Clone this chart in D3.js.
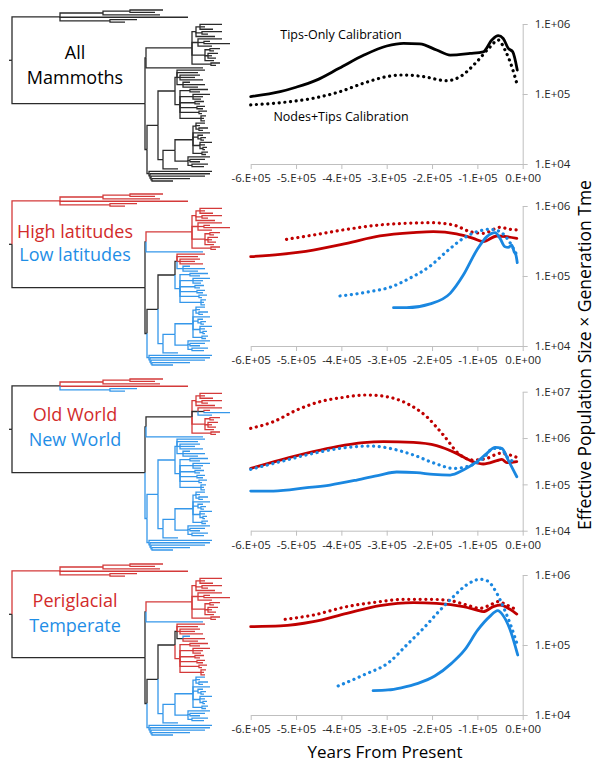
<!DOCTYPE html>
<html>
<head>
<meta charset="utf-8">
<script src="https://cdn.jsdelivr.net/npm/d3@7"></script>
<style>
    html, body { margin: 0; padding: 0; background: #fff; }
    svg { display: block; font-family: "Open Sans", sans-serif; }
</style>
</head>
<body>
<svg id="fig" width="598" height="762"></svg>
<script>

// ---- data ----

var xTicks = [-6e5, -5e5, -4e5, -3e5, -2e5, -1e5, 0];
var xTickLabels = ["-6.E+05", "-5.E+05", "-4.E+05", "-3.E+05", "-2.E+05", "-1.E+05", "0.E+00"];
var yTicks3 = [1e4, 1e5, 1e6];
var yTicks4 = [1e4, 1e5, 1e6, 1e7];
var yTickLabels = {1e4: "1.E+04", 1e5: "1.E+05", 1e6: "1.E+06", 1e7: "1.E+07"};

// mammoth tree, branch lengths in plot units
var newick = "(" +
    "(((t1:33,t2:25):27,t3:57):43,t4:128,(t5:27,t6:15):50):48," +
    "(" +
      "((((a1:22,a2:5,a3:13):4,(a4:20,a5:6):6,a6:19):4,(a7:24,(a8:6,a9:26):6,a10:14):6," +
        "((a11:10,a12:4):5,(a13:10,a14:4,a15:8):3,a16:9):13,(a17:9,a18:5):19):46,lone:57):1," +
      "((" +
        "((c1:28,c2:21,(c3:20,c4:15,c5:23):3,(c6:7,c7:22,c8:15):6):2," +
          "((c9:18,c10:10):10,(c11:17,c12:10,c13:8):13,(c14:9,c15:5):15,(c16:8,c17:6):17," +
          "(c18:8,c19:3):19,(c20:5,c21:3,c22:4):21):5):17," +
        "(((" +
          "(d1:9,d2:4,(d3:9,d4:4):3):3,d5:17,(d6:5,(d7:5,d8:3):3):5,(d9:12,d10:5,(d11:4,d12:2):3):7,(d13:6,d14:4):9):18," +
          "(e1:22,(e2:15,e3:10):2,(e4:16,e5:12):4):13):12,b:15):5" +
      "):11," +
      "(f1:63,(f2:60,(f3:54,(f4:38,f5:21):1):1):1):2):2" +
    "):133);";

// tip states in leaf order (k = none, r = red group, b = blue group)
var statesAll = "k".repeat(72);
var statesLatitude = "rrrrrr" + "rrrrrrrrrrrrrrrrrr" + "b" + "rrrrr" + "b".repeat(17) + "b".repeat(25);
var statesWorld = "rrrrbb" + "rrrrrrrrbbrrrrrrrr" + "b" + "b".repeat(22) + "b".repeat(25);
var statesClimate = "rrrrrr" + "rrrrrrrrrrrrrrrrrr" + "b" + "rrrrrbrrrrrrrrrrrrrrrr" + "b".repeat(25);

// effective population size x generation time, [years, value]
var allTips = [[-6e5, 9.2e4], [-5.35e5, 1.08e5], [-5.0e5, 1.25e5], [-4.55e5, 1.58e5], [-4.05e5, 2.33e5],
    [-3.5e5, 3.6e5], [-3.0e5, 4.85e5], [-2.63e5, 5.3e5], [-2.27e5, 5.2e5], [-1.9e5, 4.25e5], [-1.6e5, 3.6e5],
    [-1.16e5, 3.8e5], [-8.7e4, 4.0e5], [-6.8e4, 5.9e5], [-5.4e4, 6.8e5], [-4.3e4, 6.2e5], [-3.2e4, 4.5e5],
    [-2.2e4, 4.0e5], [-1.2e4, 2.2e5]];
var allNodes = [[-6e5, 7.0e4], [-5.35e5, 7.5e4], [-4.62e5, 8.7e4], [-4.03e5, 1.08e5], [-3.52e5, 1.42e5],
    [-3.0e5, 1.77e5], [-2.63e5, 1.87e5], [-2.19e5, 1.77e5], [-1.68e5, 1.55e5], [-1.38e5, 1.77e5],
    [-1.01e5, 2.9e5], [-7.2e4, 4.7e5], [-5.4e4, 5.9e5], [-3.9e4, 4.25e5], [-2.4e4, 2.45e5], [-1.3e4, 1.42e5]];

var highTips = [[-6e5, 1.89e5], [-5.35e5, 2.04e5], [-4.62e5, 2.35e5], [-3.88e5, 2.93e5], [-3.15e5, 3.73e5],
    [-2.41e5, 4.16e5], [-1.97e5, 4.3e5], [-1.46e5, 4.0e5], [-1.09e5, 3.45e5], [-8.7e4, 3.1e5], [-5.7e4, 3.73e5],
    [-3.5e4, 3.65e5], [-1.3e4, 3.45e5]];
var highNodes = [[-5.21e5, 3.34e5], [-4.62e5, 3.85e5], [-3.88e5, 4.64e5], [-3.15e5, 5.36e5], [-2.63e5, 5.65e5],
    [-2.04e5, 5.78e5], [-1.53e5, 5.36e5], [-1.16e5, 4.3e5], [-8.7e4, 4.07e5], [-5.0e4, 4.96e5], [-2.8e4, 4.64e5],
    [-1.3e4, 4.54e5]];
var lowTips = [[-2.85e5, 3.53e4], [-2.56e5, 3.53e4], [-2.04e5, 4.0e4], [-1.6e5, 5.65e4], [-1.31e5, 1.03e5],
    [-1.01e5, 2.35e5], [-7.9e4, 3.65e5], [-6.1e4, 4.16e5], [-5.0e4, 3.45e5], [-3.9e4, 2.62e5], [-3.2e4, 2.57e5],
    [-2.4e4, 2.77e5], [-1.9e4, 2.23e5], [-1.5e4, 2.0e5], [-1.2e4, 1.55e5]];
var lowNodes = [[-4.03e5, 5.18e4], [-3.37e5, 5.98e4], [-2.93e5, 6.89e4], [-2.49e5, 9.3e4], [-2.04e5, 1.39e5],
    [-1.68e5, 2.23e5], [-1.31e5, 3.45e5], [-1.01e5, 4.3e5], [-7.2e4, 4.64e5], [-5.0e4, 4.3e5], [-3.2e4, 3.27e5],
    [-1.3e4, 2.0e5]];

var oldTips = [[-6e5, 2.21e5], [-5.35e5, 3.35e5], [-4.62e5, 5.07e5], [-4.1e5, 6.5e5], [-3.51e5, 7.93e5],
    [-3.07e5, 8.33e5], [-2.41e5, 8.06e5], [-1.9e5, 6.84e5], [-1.46e5, 4.67e5], [-1.09e5, 3.08e5], [-8.7e4, 2.75e5],
    [-5.7e4, 3.24e5], [-4.6e4, 3.47e5], [-3.5e4, 2.94e5], [-1.3e4, 3.08e5]];
var oldNodes = [[-6e5, 1.62e6], [-5.5e5, 2.25e6], [-4.99e5, 4.0e6], [-4.47e5, 6.1e6], [-3.96e5, 7.55e6],
    [-3.44e5, 8.5e6], [-3.0e5, 7.8e6], [-2.56e5, 5.6e6], [-2.12e5, 2.9e6], [-1.75e5, 1.16e6], [-1.38e5, 4.3e5],
    [-1.09e5, 3.35e5], [-7.9e4, 3.64e5], [-5.0e4, 4.67e5], [-2.8e4, 4.3e5], [-1.3e4, 3.83e5]];
var newTips = [[-6e5, 7.18e4], [-5.5e5, 7.18e4], [-4.76e5, 8.47e4], [-4.25e5, 9.68e4], [-3.66e5, 1.24e5],
    [-3.15e5, 1.59e5], [-2.78e5, 1.85e5], [-2.34e5, 1.79e5], [-1.97e5, 1.64e5], [-1.6e5, 1.59e5], [-1.31e5, 2.04e5],
    [-1.01e5, 3.08e5], [-7.9e4, 4.67e5], [-6.1e4, 6.3e5], [-4.6e4, 6.0e5], [-3.2e4, 3.35e5], [-1.3e4, 1.46e5]];
var newNodes = [[-6e5, 2.11e5], [-5.35e5, 3.08e5], [-4.62e5, 4.67e5], [-4.03e5, 5.98e5], [-3.37e5, 6.72e5],
    [-2.93e5, 5.98e5], [-2.41e5, 4.3e5], [-1.9e5, 2.75e5], [-1.53e5, 2.21e5], [-1.24e5, 2.4e5], [-8.7e4, 3.64e5],
    [-6.5e4, 5.98e5], [-5.0e4, 5.98e5], [-2.8e4, 3.35e5], [-1.3e4, 3.08e5]];

var periTips = [[-6e5, 1.83e5], [-5.35e5, 1.87e5], [-4.62e5, 2.15e5], [-3.88e5, 2.83e5], [-3.15e5, 3.65e5],
    [-2.41e5, 4.03e5], [-1.9e5, 3.94e5], [-1.31e5, 3.53e5], [-1.01e5, 3.16e5], [-8.7e4, 3.0e5], [-6.5e4, 3.53e5],
    [-5.0e4, 3.73e5], [-2.8e4, 3.24e5], [-1.3e4, 2.77e5]];
var periNodes = [[-5.24e5, 2.33e5], [-4.62e5, 2.68e5], [-3.88e5, 3.53e5], [-3.15e5, 4.16e5], [-2.63e5, 4.49e5],
    [-2.04e5, 4.49e5], [-1.6e5, 4.3e5], [-1.24e5, 3.73e5], [-9.4e4, 3.34e5], [-7.2e4, 3.73e5], [-5.4e4, 4.16e5],
    [-3.5e4, 3.73e5], [-1.3e4, 3.16e5]];
var tempTips = [[-3.3e5, 2.23e4], [-2.97e5, 2.28e4], [-2.68e5, 2.45e4], [-2.31e5, 2.83e4], [-1.94e5, 3.6e4],
    [-1.57e5, 5.47e4], [-1.28e5, 8.5e4], [-9.9e4, 1.64e5], [-7.3e4, 2.54e5], [-5.5e4, 3.09e5], [-4.4e4, 2.68e5],
    [-2.9e4, 1.73e5], [-1.1e4, 7.2e4]];
var tempNodes = [[-4.07e5, 2.6e4], [-3.51e5, 3.73e4], [-2.93e5, 5.78e4], [-2.56e5, 1.0e5], [-2.19e5, 1.73e5],
    [-1.82e5, 3.16e5], [-1.53e5, 4.9e5], [-1.24e5, 7.2e5], [-9.4e4, 8.67e5], [-7.9e4, 8.3e5], [-5.7e4, 5.47e5],
    [-4.3e4, 3.53e5], [-2.8e4, 2.04e5], [-1.3e4, 1.06e5]];

// ---- style / layout ----

var RED = "#c00000", BLUE = "#1a87e0", BLACK = "#000";
var treeColor = {k: "#2b2b2b", r: "#d43a3a", b: "#3597ea"};
var labelColor = {k: "#000", r: "#d22b2b", b: "#1f8ee6"};

var panels = [
    {dy: 0, top: 24, bottom: 164, domain: [1e4, 1e6], ticks: yTicks3, states: statesAll,
     labels: [["All", "k", 53], ["Mammoths", "k", 78]],
     series: [[allTips, BLACK, false], [allNodes, BLACK, true]]},
    {dy: 184, top: 206, bottom: 346, domain: [1e4, 1e6], ticks: yTicks3, states: statesLatitude,
     labels: [["High latitudes", "r", 232], ["Low latitudes", "b", 255]],
     series: [[highNodes, RED, true], [highTips, RED, false], [lowNodes, BLUE, true], [lowTips, BLUE, false]]},
    {dy: 369, top: 391.7, bottom: 530.7, domain: [1e4, 1e7], ticks: yTicks4, states: statesWorld,
     labels: [["Old World", "r", 415], ["New World", "b", 440]],
     series: [[oldNodes, RED, true], [oldTips, RED, false], [newNodes, BLUE, true], [newTips, BLUE, false]]},
    {dy: 554, top: 575, bottom: 715, domain: [1e4, 1e6], ticks: yTicks3, states: statesClimate,
     labels: [["Periglacial", "r", 601], ["Temperate", "b", 626]],
     series: [[periNodes, RED, true], [periTips, RED, false], [tempNodes, BLUE, true], [tempTips, BLUE, false]]}
];

var svg = d3.select("#fig");

var x = d3.scaleLinear().domain([-6e5, 0]).range([250.7, 522.7]);

// ---- tree ----

function parseNewick(s) {
    var i = 0;
    function node() {
        var n = {name: "", length: 0, children: []};
        if (s[i] === "(") {
            i++;
            n.children.push(node());
            while (s[i] === ",") { i++; n.children.push(node()); }
            i++;
        }
        var name = /^[^:,();]*/.exec(s.slice(i))[0];
        n.name = name; i += name.length;
        if (s[i] === ":") {
            i++;
            var len = /^[0-9.]+/.exec(s.slice(i))[0];
            n.length = +len; i += len.length;
        }
        return n;
    }
    return node();
}

var tree = d3.hierarchy(parseNewick(newick), d => d.children.length ? d.children : null);
var leaves = tree.leaves();

tree.eachBefore(n => { n.depthLen = (n.parent ? n.parent.depthLen : 0) + n.data.length; });
var treeX = d3.scaleLinear().domain([0, d3.max(leaves, d => d.depthLen)]).range([12, 230]);
var treeY = d3.scaleLinear().domain([0, leaves.length - 1]).range([10, 181]);

leaves.forEach((d, i) => { d.ty = treeY(i); });
tree.eachAfter(n => {
    if (n.children) n.ty = (n.children[0].ty + n.children[n.children.length - 1].ty) / 2;
});

function drawTree(g, states) {
    leaves.forEach((d, i) => { d.state = states[i]; });
    tree.eachAfter(n => {
        if (!n.children) return;
        var s = n.children.map(c => c.state);
        n.state = s.every(v => v === s[0]) ? s[0] : "k";
    });

    g.append("path")
        .attr("d", `M${treeX(0) - 3},${tree.ty}H${treeX(0)}`)
        .attr("stroke", treeColor[tree.state]);

    g.selectAll("path.edge")
        .data(tree.descendants().slice(1))
        .join("path")
          .attr("class", "edge")
          .attr("d", d => `M${treeX(d.parent.depthLen)},${d.parent.ty}V${d.ty}H${treeX(d.depthLen)}`)
          .attr("stroke", d => treeColor[d.state]);

    g.selectAll("path")
        .attr("fill", "none")
        .attr("stroke-width", 1.3);
}

// ---- charts ----

var line = d3.line().curve(d3.curveMonotoneX);

panels.forEach(function (p) {

    drawTree(svg.append("g").attr("transform", `translate(0, ${p.dy})`), p.states);

    p.labels.forEach(([text, c, cy]) => {
        svg.append("text")
            .attr("x", 75).attr("y", cy).attr("dy", "0.35em")
            .attr("text-anchor", "middle")
            .attr("font-size", 18)
            .attr("fill", labelColor[c])
            .text(text);
    });

    var y = d3.scaleLog().domain(p.domain).range([p.bottom, p.top]);

    var xAxis = svg.append("g")
        .attr("transform", `translate(0, ${p.bottom})`)
        .call(d3.axisBottom(x).tickValues(xTicks).tickFormat((d, i) => xTickLabels[i])
            .tickSize(5).tickSizeOuter(0).tickPadding(5));

    var yAxis = svg.append("g")
        .attr("transform", `translate(${x(0)}, 0)`)
        .call(d3.axisRight(y).tickValues(p.ticks).tickFormat(d => yTickLabels[d])
            .tickSize(5).tickSizeOuter(0).tickPadding(7));

    [xAxis, yAxis].forEach(a => {
        a.select(".domain").attr("stroke", "#bfbfbf");
        a.selectAll(".tick line").attr("stroke", "#bfbfbf");
        a.selectAll(".tick text")
            .attr("font-family", "'Open Sans', sans-serif")
            .attr("font-size", 11.5)
            .attr("fill", "#262626");
    });

    p.series.forEach(([values, color, dotted]) => {
        svg.append("path")
            .attr("d", line(values.map(v => [x(v[0]), y(v[1])])))
            .attr("fill", "none")
            .attr("stroke", color)
            .attr("stroke-width", dotted ? 3.2 : 2.8)
            .attr("stroke-linecap", "round")
            .attr("stroke-dasharray", dotted ? "0.1 5.6" : null);
    });
});

// curve annotations in the top panel
svg.append("text").attr("x", 341).attr("y", 35).attr("dy", "0.35em")
    .attr("text-anchor", "middle").attr("font-size", 12.5).text("Tips-Only Calibration");
svg.append("text").attr("x", 341).attr("y", 117).attr("dy", "0.35em")
    .attr("text-anchor", "middle").attr("font-size", 12.5).text("Nodes+Tips Calibration");

// axis titles
svg.append("text")
    .attr("transform", "translate(585, 355) rotate(-90)")
    .attr("dy", "0.35em")
    .attr("text-anchor", "middle")
    .attr("font-size", 17.5)
    .text("Effective Population Size × Generation Tme");

svg.append("text")
    .attr("x", 385).attr("y", 752).attr("dy", "0.35em")
    .attr("text-anchor", "middle")
    .attr("font-size", 17)
    .text("Years From Present");

</script>
</body>
</html>
